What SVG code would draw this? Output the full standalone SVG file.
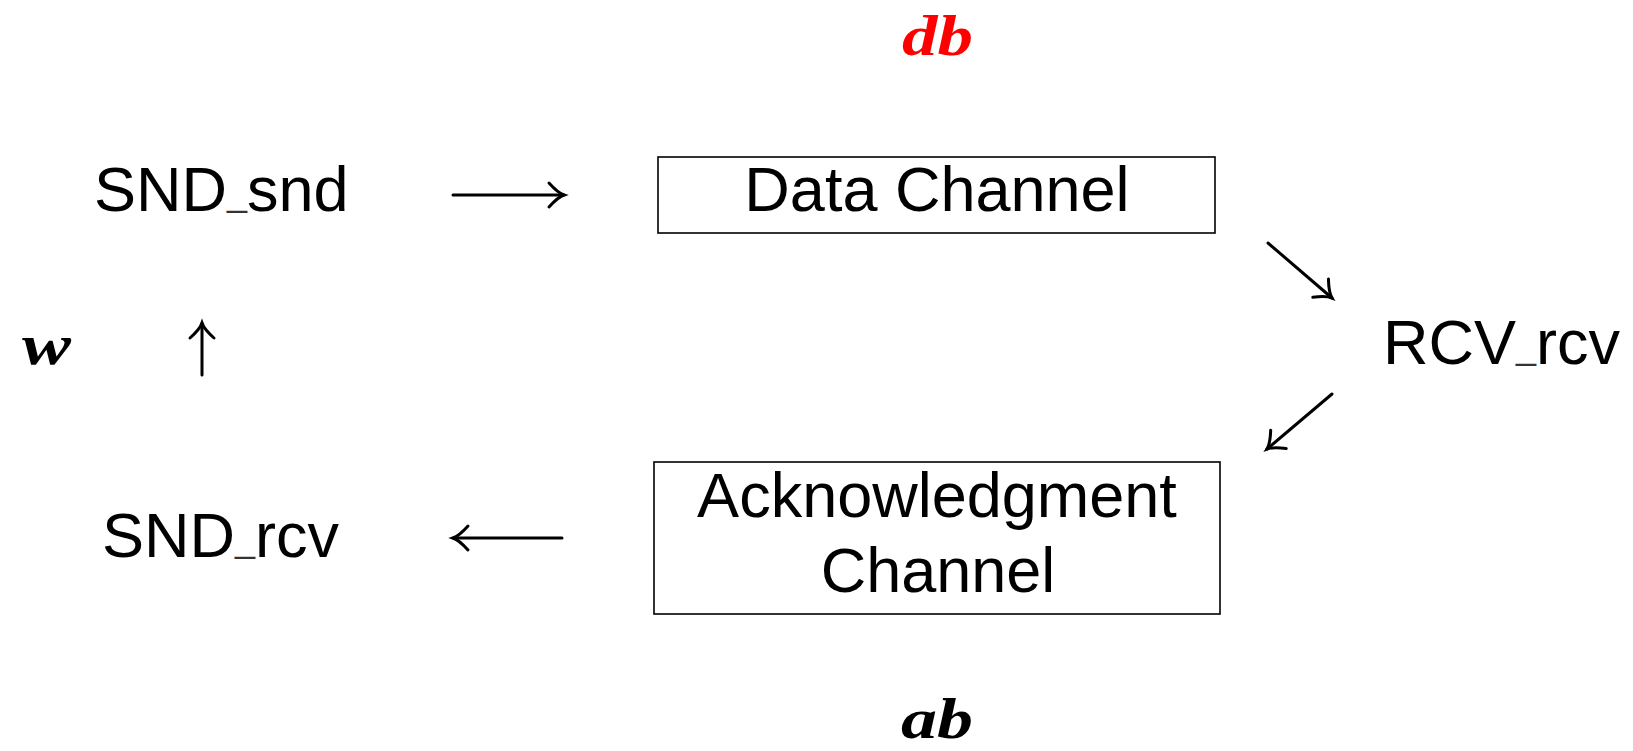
<svg xmlns="http://www.w3.org/2000/svg" width="1633" height="751" viewBox="0 0 1633 751">
  <style>
    .lbl { font-family: "Liberation Sans", Arial, sans-serif; font-size: 63px; fill: #000; }
    .us { font-size: 36px; fill: #333; }
    .math { font-family: "Liberation Serif", "Times New Roman", serif; font-style: italic; font-weight: bold; font-size: 58px; }
    .box { fill: #fff; stroke: #000; stroke-width: 1.6; }
    .conn { stroke: #000; stroke-width: 3; fill: none; stroke-linecap: round; }
  </style>
  <defs>
    <marker id="head" markerUnits="userSpaceOnUse" orient="auto" refX="0" refY="0" markerWidth="40" markerHeight="40" viewBox="-20 -20 40 40" overflow="visible">
      <path d="M-15,-12 Q-6,-2 0,0 Q-6,2 -15,12" fill="none" stroke="#000" stroke-width="3" stroke-linecap="round"/>
    </marker>
  </defs>
  <rect width="1633" height="751" fill="#fff"/>

  <!-- connectors -->
  <g id="connectors">
    <line class="conn" x1="453" y1="195" x2="564" y2="195" marker-end="url(#head)"/>
    <line class="conn" x1="1268" y1="243" x2="1332" y2="298" marker-end="url(#head)"/>
    <line class="conn" x1="1332" y1="394" x2="1267" y2="449" marker-end="url(#head)"/>
    <line class="conn" x1="562" y1="538" x2="453" y2="538" marker-end="url(#head)"/>
    <line class="conn" x1="202" y1="375" x2="202" y2="323" marker-end="url(#head)"/>
  </g>

  <g id="snd_snd">
    <text class="lbl" x="94" y="211">SND<tspan class="us" dy="-5">_</tspan><tspan dy="5">snd</tspan></text>
  </g>

  <g id="data_channel">
    <rect class="box" x="658" y="157" width="557" height="76"/>
    <text class="lbl" x="937" y="211" text-anchor="middle">Data Channel</text>
  </g>

  <g id="rcv_rcv">
    <text class="lbl" x="1383" y="364">RCV<tspan class="us" dy="-5">_</tspan><tspan dy="5">rcv</tspan></text>
  </g>

  <g id="ack_channel">
    <rect class="box" x="654" y="462" width="566" height="152"/>
    <text class="lbl" x="937" y="517" text-anchor="middle">Acknowledgment</text>
    <text class="lbl" x="938" y="592" text-anchor="middle">Channel</text>
  </g>

  <g id="snd_rcv">
    <text class="lbl" x="102" y="557">SND<tspan class="us" dy="-5">_</tspan><tspan dy="5">rcv</tspan></text>
  </g>

  <g id="label_db">
    <text class="math" x="902" y="55" fill="#ff0000" textLength="71" lengthAdjust="spacingAndGlyphs">db</text>
  </g>
  <g id="label_w">
    <text class="math" x="22" y="364" textLength="49" lengthAdjust="spacingAndGlyphs">w</text>
  </g>
  <g id="label_ab">
    <text class="math" x="901" y="738" textLength="72" lengthAdjust="spacingAndGlyphs">ab</text>
  </g>
</svg>
